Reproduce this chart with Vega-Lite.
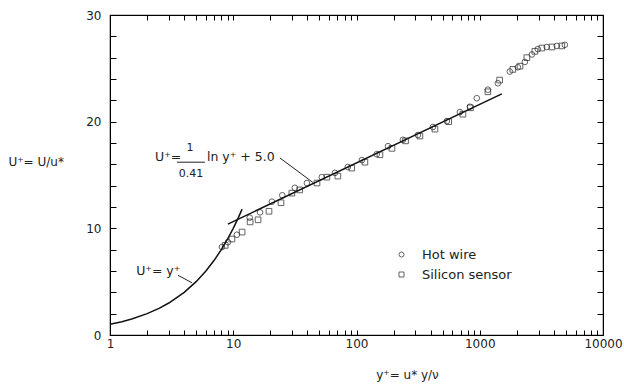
{
  "$schema": "https://vega.github.io/schema/vega-lite/v6.json",
  "width": 493,
  "height": 320,
  "autosize": {"type": "none"},
  "padding": {"left": 110, "top": 15, "right": 21, "bottom": 49},
  "background": "white",
  "config": {
    "view": {"stroke": "#222", "strokeWidth": 1.2},
    "font": "DejaVu Sans",
    "axis": {
      "grid": false,
      "labelFont": "DejaVu Sans", "labelFontSize": 12, "labelColor": "#222",
      "titleFont": "DejaVu Sans", "titleFontWeight": "normal", "titleFontSize": 12, "titleColor": "#222"
    },
    "text": {"font": "DejaVu Sans", "fontSize": 12, "color": "#222"}
  },
  "datasets": {
    "pts": [
      {"x": 8.1, "y": 8.25, "s": "Hot wire"},
      {"x": 9.06, "y": 8.7, "s": "Hot wire"},
      {"x": 10.7, "y": 9.4, "s": "Hot wire"},
      {"x": 13.6, "y": 11.0, "s": "Hot wire"},
      {"x": 16.5, "y": 11.5, "s": "Hot wire"},
      {"x": 20.6, "y": 12.5, "s": "Hot wire"},
      {"x": 25.0, "y": 13.1, "s": "Hot wire"},
      {"x": 31.6, "y": 13.8, "s": "Hot wire"},
      {"x": 39.6, "y": 14.25, "s": "Hot wire"},
      {"x": 52.3, "y": 14.8, "s": "Hot wire"},
      {"x": 66.9, "y": 15.2, "s": "Hot wire"},
      {"x": 85, "y": 15.75, "s": "Hot wire"},
      {"x": 110.6, "y": 16.4, "s": "Hot wire"},
      {"x": 146, "y": 16.95, "s": "Hot wire"},
      {"x": 180, "y": 17.7, "s": "Hot wire"},
      {"x": 238, "y": 18.3, "s": "Hot wire"},
      {"x": 315, "y": 18.75, "s": "Hot wire"},
      {"x": 417, "y": 19.5, "s": "Hot wire"},
      {"x": 541, "y": 20.05, "s": "Hot wire"},
      {"x": 690, "y": 20.9, "s": "Hot wire"},
      {"x": 832, "y": 21.4, "s": "Hot wire"},
      {"x": 946, "y": 22.2, "s": "Hot wire"},
      {"x": 1164, "y": 23.0, "s": "Hot wire"},
      {"x": 1403, "y": 23.6, "s": "Hot wire"},
      {"x": 1754, "y": 24.7, "s": "Hot wire"},
      {"x": 2038, "y": 25.1, "s": "Hot wire"},
      {"x": 2322, "y": 25.6, "s": "Hot wire"},
      {"x": 2649, "y": 26.3, "s": "Hot wire"},
      {"x": 2960, "y": 26.8, "s": "Hot wire"},
      {"x": 3500, "y": 27.0, "s": "Hot wire"},
      {"x": 4220, "y": 27.1, "s": "Hot wire"},
      {"x": 4900, "y": 27.2, "s": "Hot wire"},
      {"x": 8.6, "y": 8.4, "s": "Silicon sensor"},
      {"x": 9.75, "y": 9.0, "s": "Silicon sensor"},
      {"x": 11.8, "y": 9.65, "s": "Silicon sensor"},
      {"x": 13.7, "y": 10.6, "s": "Silicon sensor"},
      {"x": 15.9, "y": 10.8, "s": "Silicon sensor"},
      {"x": 19.5, "y": 11.6, "s": "Silicon sensor"},
      {"x": 24.4, "y": 12.4, "s": "Silicon sensor"},
      {"x": 29.9, "y": 13.3, "s": "Silicon sensor"},
      {"x": 34.6, "y": 13.6, "s": "Silicon sensor"},
      {"x": 47.8, "y": 14.25, "s": "Silicon sensor"},
      {"x": 57.5, "y": 14.8, "s": "Silicon sensor"},
      {"x": 70.6, "y": 14.9, "s": "Silicon sensor"},
      {"x": 91.5, "y": 15.65, "s": "Silicon sensor"},
      {"x": 117, "y": 16.2, "s": "Silicon sensor"},
      {"x": 155, "y": 16.9, "s": "Silicon sensor"},
      {"x": 194, "y": 17.5, "s": "Silicon sensor"},
      {"x": 250, "y": 18.2, "s": "Silicon sensor"},
      {"x": 327, "y": 18.65, "s": "Silicon sensor"},
      {"x": 433, "y": 19.3, "s": "Silicon sensor"},
      {"x": 560, "y": 20.0, "s": "Silicon sensor"},
      {"x": 730, "y": 20.7, "s": "Silicon sensor"},
      {"x": 840, "y": 21.3, "s": "Silicon sensor"},
      {"x": 1164, "y": 22.8, "s": "Silicon sensor"},
      {"x": 1450, "y": 23.9, "s": "Silicon sensor"},
      {"x": 1855, "y": 24.9, "s": "Silicon sensor"},
      {"x": 2120, "y": 25.2, "s": "Silicon sensor"},
      {"x": 2411, "y": 26.0, "s": "Silicon sensor"},
      {"x": 2800, "y": 26.6, "s": "Silicon sensor"},
      {"x": 3190, "y": 26.9, "s": "Silicon sensor"},
      {"x": 3850, "y": 27.0, "s": "Silicon sensor"},
      {"x": 4630, "y": 27.1, "s": "Silicon sensor"}
    ],
    "theory": [
      {"x": 1, "y": 1, "k": "lin"},
      {"x": 1.25, "y": 1.25, "k": "lin"},
      {"x": 1.5, "y": 1.5, "k": "lin"},
      {"x": 2, "y": 2, "k": "lin"},
      {"x": 2.5, "y": 2.5, "k": "lin"},
      {"x": 3, "y": 3, "k": "lin"},
      {"x": 4, "y": 4, "k": "lin"},
      {"x": 5, "y": 5, "k": "lin"},
      {"x": 6, "y": 6, "k": "lin"},
      {"x": 7, "y": 7, "k": "lin"},
      {"x": 8, "y": 8, "k": "lin"},
      {"x": 9, "y": 9, "k": "lin"},
      {"x": 10, "y": 10, "k": "lin"},
      {"x": 11, "y": 11, "k": "lin"},
      {"x": 11.8, "y": 11.8, "k": "lin"},
      {"x": 9.05, "y": 10.4, "k": "log"},
      {"x": 1510, "y": 22.6, "k": "log"}
    ],
    "segs": [
      {"x": 3.49, "x2": 5.89, "y": 16.2, "y2": 16.2},
      {"x": 23.9, "x2": 44.3, "y": 16.6, "y2": 14.3},
      {"x": 3.56, "x2": 4.62, "y": 5.6, "y2": 4.9}
    ],
    "labelsL": [
      {"x": 2.32, "y": 16.7, "t": "U⁺="},
      {"x": 6.12, "y": 16.7, "t": "ln y⁺ + 5.0"},
      {"x": 1.63, "y": 6.0, "t": "U⁺= y⁺"}
    ],
    "labelsC": [
      {"x": 4.45, "y": 17.5, "t": "1"},
      {"x": 4.54, "y": 15.1, "t": "0.41"}
    ]
  },
  "layer": [
    {
      "data": {"name": "pts"},
      "mark": {"type": "point", "filled": false, "strokeWidth": 1, "size": 32, "color": "#222"},
      "encoding": {
        "x": {
          "field": "x", "type": "quantitative",
          "scale": {"type": "log", "domain": [1, 10000]},
          "axis": {
            "orient": "bottom", "domain": true, "domainColor": "black",
            "values": [1,2,3,4,5,6,7,8,9,10,20,30,40,50,60,70,80,90,100,200,300,400,500,600,700,800,900,1000,2000,3000,4000,5000,6000,7000,8000,9000,10000],
            "labelExpr": "indexof([1,10,100,1000,10000], datum.value) >= 0 ? format(datum.value, 'd') : ''",
            "labelOverlap": false, "labelFlush": false,
            "ticks": true, "tickSize": -5, "tickColor": "black", "labelPadding": 8,
            "title": "y⁺= u* y/ν", "titleX": 297, "titleY": 39, "titleAlign": "center", "titleBaseline": "middle"
          }
        },
        "y": {
          "field": "y", "type": "quantitative",
          "scale": {"domain": [0, 30], "nice": false},
          "axis": {
            "orient": "left", "domain": true, "domainColor": "black",
            "values": [0,2,4,6,8,10,12,14,16,18,20,22,24,26,28,30],
            "labelExpr": "datum.value % 10 == 0 ? datum.label : ''",
            "labelOverlap": false, "labelFlush": false,
            "ticks": true, "tickSize": -6, "tickColor": "black", "labelPadding": 15,
            "title": "U⁺= U/u*", "titleAngle": 0, "titleX": -102, "titleY": 146, "titleAlign": "left", "titleBaseline": "middle"
          }
        },
        "shape": {
          "field": "s", "type": "nominal",
          "scale": {"domain": ["Hot wire", "Silicon sensor"], "range": ["circle", "square"]},
          "legend": {
            "orient": "none", "legendX": 285, "legendY": 233, "title": null, "padding": 0,
            "labelFontSize": 13, "labelFont": "DejaVu Sans", "labelColor": "#222",
            "symbolSize": 25, "symbolStrokeWidth": 1, "symbolStrokeColor": "#222",
            "labelOffset": 14, "rowPadding": 6
          }
        }
      }
    },
    {
      "data": {"name": "theory"},
      "mark": {"type": "line", "color": "#111", "strokeWidth": 1.5},
      "encoding": {
        "x": {
          "field": "x", "type": "quantitative",
          "scale": {"type": "log", "domain": [1, 10000]},
          "axis": {
            "orient": "top", "title": null, "labelExpr": "''",
            "domain": true, "domainColor": "black",
            "values": [2,3,4,5,6,7,8,9,10,20,30,40,50,60,70,80,90,100,200,300,400,500,600,700,800,900,1000,2000,3000,4000,5000,6000,7000,8000,9000],
            "ticks": true, "tickSize": -5, "tickColor": "black"
          }
        },
        "y": {
          "field": "y", "type": "quantitative",
          "scale": {"domain": [0, 30], "nice": false},
          "axis": {
            "orient": "right", "title": null, "labelExpr": "''",
            "domain": true, "domainColor": "black",
            "values": [2,4,6,8,10,12,14,16,18,20,22,24,26,28],
            "ticks": true, "tickSize": -6, "tickColor": "black"
          }
        },
        "detail": {"field": "k", "type": "nominal"}
      }
    },
    {
      "data": {"name": "segs"},
      "mark": {"type": "rule", "color": "#222", "strokeWidth": 1},
      "encoding": {
        "x": {"field": "x", "type": "quantitative", "scale": {"type": "log", "domain": [1, 10000]}, "axis": null},
        "x2": {"field": "x2"},
        "y": {"field": "y", "type": "quantitative", "scale": {"domain": [0, 30], "nice": false}, "axis": null},
        "y2": {"field": "y2"}
      }
    },
    {
      "data": {"name": "labelsL"},
      "mark": {"type": "text", "align": "left", "baseline": "middle", "fontSize": 12.5, "color": "#222"},
      "encoding": {
        "x": {"field": "x", "type": "quantitative", "scale": {"type": "log", "domain": [1, 10000]}, "axis": null},
        "y": {"field": "y", "type": "quantitative", "scale": {"domain": [0, 30], "nice": false}, "axis": null},
        "text": {"field": "t"}
      }
    },
    {
      "data": {"name": "labelsC"},
      "mark": {"type": "text", "align": "center", "baseline": "middle", "fontSize": 11, "color": "#222"},
      "encoding": {
        "x": {"field": "x", "type": "quantitative", "scale": {"type": "log", "domain": [1, 10000]}, "axis": null},
        "y": {"field": "y", "type": "quantitative", "scale": {"domain": [0, 30], "nice": false}, "axis": null},
        "text": {"field": "t"}
      }
    }
  ],
  "resolve": {
    "scale": {"x": "independent", "y": "independent"},
    "axis": {"x": "independent", "y": "independent"}
  }
}
